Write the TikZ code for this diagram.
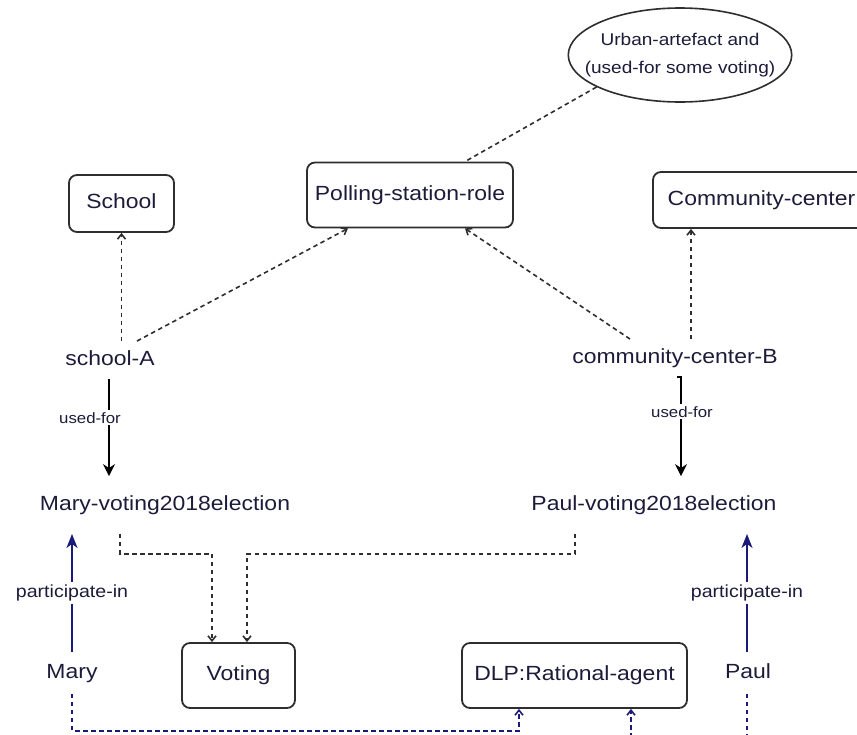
\documentclass[tikz,border=0pt]{standalone}
\usepackage{fontspec}
\setmainfont{Liberation Sans}[FakeStretch=1.12]
\usetikzlibrary{arrows.meta,shapes.geometric}
\definecolor{ink}{HTML}{1C1C3A}
\definecolor{edgeblue}{HTML}{1A1A78}
\definecolor{frame}{HTML}{2E2E2E}
\begin{document}
\begin{tikzpicture}[x=1pt,y=-1pt,
  every node/.style={text=ink},
  concept/.style={draw=frame, line width=1.8pt, rounded corners=8pt, fill=white,
    font=\fontsize{20.5}{24}\selectfont, inner sep=0pt,
    text height=15pt, text depth=4.5pt},
  inst/.style={font=\fontsize{20.5}{24}\selectfont, inner xsep=2pt, inner ysep=9pt,
    text height=15pt, text depth=4.5pt},
  event/.style={inst, inner ysep=19pt},
  person/.style={inst, inner ysep=11pt},
  relsmall/.style={fill=white, inner xsep=1pt, inner ysep=2pt, font=\fontsize{15}{18}\selectfont},
  relbig/.style={fill=white, inner xsep=1pt, inner ysep=3pt, font=\fontsize{17.5}{20}\selectfont},
  isa/.style={draw=frame, line width=1.6pt, dash pattern=on 4.5pt off 3.5pt,
    -{Straight Barb[length=5pt,width=8pt]}},
  plainlink/.style={draw=frame, line width=1.6pt, dash pattern=on 4.5pt off 3.5pt},
  usedfor/.style={draw=black, line width=1.6pt, -{Stealth[length=12pt,width=12pt,inset=4pt]}},
  partin/.style={draw=edgeblue, line width=1.6pt, -{Stealth[length=14pt,width=11pt,inset=4pt]}},
  agentlink/.style={draw=edgeblue, line width=1.6pt, dash pattern=on 4.5pt off 3.5pt,
    -{Straight Barb[length=5pt,width=8pt]}},
]
\useasboundingbox (0,0) rectangle (857,734);
\clip (0,0) rectangle (857,734);

% class boxes; the ellipse content box is kept narrow so that the outline hugs the text
\node[draw=frame, line width=1.6pt, fill=white, ellipse, minimum height=94pt,
  inner sep=0pt, align=center,
  font=\fontsize{17}{28}\selectfont] (ell) at (680,55)
  {\makebox[158pt]{Urban-artefact and}\\\makebox[158pt]{(used-for some voting)}};
\node[concept, minimum width=206pt, minimum height=65pt] (polling) at (410,195) {Polling-station-role};
\node[concept, minimum width=105pt, minimum height=57pt] (school) at (121.5,203.5) {School};
\node[concept, minimum width=217pt, minimum height=56pt] (community) at (761.5,200) {Community-center};
\node[concept, minimum width=113pt, minimum height=65pt] (voting) at (238.5,675.5) {Voting};
\node[concept, minimum width=225pt, minimum height=65pt] (dlp) at (574.5,675.5) {DLP:Rational-agent};

% individuals
\node[inst] (schoolA) at (110,360) {school-A};
\node[inst] (ccB) at (675,358) {community-center-B};
\node[event] (maryv) at (165,505) {Mary-voting2018election};
\node[event] (paulv) at (654,505) {Paul-voting2018election};
\node[person] (mary) at (72,673) {Mary};
\node[person] (paul) at (748,673) {Paul};

% definition of the role
\path[plainlink] (ell.201) -- ([xshift=55pt]polling.north);

% types of the two sites
\path[isa] (schoolA.north -| school.south) -- (school.south);
\path[isa] ([xshift=27pt]schoolA.north) -- ([xshift=-62pt]polling.south);
\path[isa] ([xshift=-45pt]ccB.north) -- ([xshift=55pt]polling.south);
\path[isa] ([xshift=16pt]ccB.north) -- ([xshift=-70.5pt]community.south);

% used-for
\path[usedfor] ([xshift=-1pt]schoolA.south) -- ([xshift=-1pt]schoolA.south |- maryv.north)
  node[relsmall, pos=0.4, xshift=-19pt] {used-for};
\path[usedfor] ([xshift=2pt]ccB.south) -- ([xshift=6pt]ccB.south) -- ([xshift=6pt]ccB.south |- paulv.north)
  node[relsmall, pos=0.35, xshift=1pt] {used-for};

% the two votings are votings
\path[isa] ([xshift=-45pt]maryv.south) -- ++(0,20) -| ([xshift=-26.5pt]voting.north);
\path[isa] ([xshift=-79pt]paulv.south) -- ++(0,20) -| ([xshift=8.5pt]voting.north);

% participants
\path[partin] (mary.north) -- (mary.north |- maryv.south)
  node[relbig, midway] {participate-in};
\path[partin] ([xshift=-1pt]paul.north) -- ([xshift=-1pt]paul.north |- paulv.south)
  node[relbig, midway] {participate-in};

% participants are rational agents
\path[agentlink] (mary.south) -- ++(0,37) -| ([xshift=-55.5pt]dlp.south);
\path[agentlink] ([xshift=-1pt]paul.south) -- ++(0,60) -| ([xshift=56.5pt]dlp.south);
\end{tikzpicture}
\end{document}
